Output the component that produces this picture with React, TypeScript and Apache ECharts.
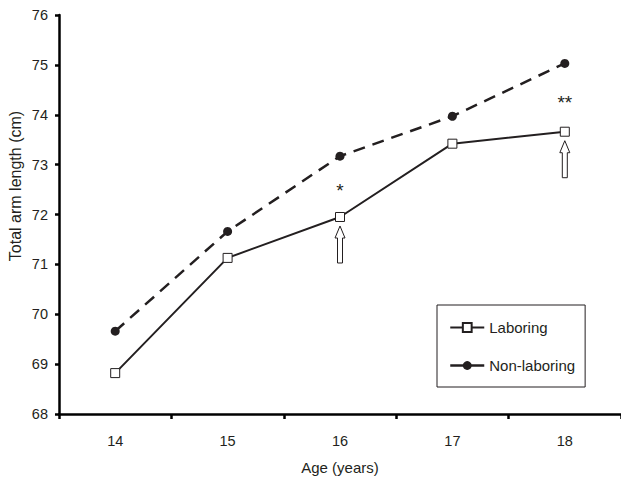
import React, { useEffect, useRef } from "react";
import * as echarts from "echarts";

const ages = ["14", "15", "16", "17", "18"];
const laboring = [68.82, 71.13, 71.95, 73.42, 73.66];
const nonLaboring = [69.66, 71.66, 73.17, 73.97, 75.03];
const yTicksMin = 68;
const yTicksMax = 76;
// arrows point up at these laboring values
const arrowPoints: [number, number][] = [
  [2, 71.95],
  [4, 73.66],
];
// significance marks
const marks: [number, number, string][] = [
  [2, 72.57, "*"],
  [4, 74.33, "**"],
];

const INK = "#231f20";
const FONT = "'Liberation Sans', Arial, sans-serif";

export default function App() {
  const ref = useRef<HTMLDivElement>(null);
  useEffect(() => {
    if (!ref.current) return;
    const chart = echarts.init(ref.current, undefined, { renderer: "svg" });
    chart.setOption({
      animation: false,
      backgroundColor: "#ffffff",
      textStyle: { fontFamily: FONT, color: INK },
      grid: { left: 59, right: -4, top: 15, bottom: 60, containLabel: false },
      xAxis: {
        type: "category",
        data: ages,
        boundaryGap: true,
        name: "Age (years)",
        nameLocation: "middle",
        nameGap: 46,
        nameTextStyle: { fontSize: 15, color: INK, fontFamily: FONT },
        axisLine: { show: true, lineStyle: { color: "#000000", width: 2.5 } },
        axisTick: { show: true, alignWithLabel: false, length: 5, lineStyle: { color: "#000000", width: 2.5 } },
        axisLabel: { fontSize: 14.5, color: INK, margin: 19, fontFamily: FONT },
        splitLine: { show: false },
      },
      yAxis: {
        type: "value",
        min: yTicksMin,
        max: yTicksMax,
        interval: 1,
        axisLine: { show: true, lineStyle: { color: "#000000", width: 2.5 } },
        axisTick: { show: true, length: 4, lineStyle: { color: "#000000", width: 2.5 } },
        axisLabel: { fontSize: 14.5, color: INK, margin: 11, fontFamily: FONT },
        splitLine: { show: false },
      },
      legend: {
        orient: "vertical",
        left: 437,
        top: 305,
        padding: [15, 10, 14, 12],
        itemGap: 23,
        itemWidth: 34,
        itemHeight: 11,
        borderColor: INK,
        borderWidth: 1,
        borderRadius: 0,
        backgroundColor: "#ffffff",
        textStyle: { fontSize: 15, color: INK, fontFamily: FONT },
        data: [
          { name: "Laboring", lineStyle: { type: "solid", width: 2 } },
          { name: "Non-laboring", lineStyle: { type: "solid", width: 2.5 } },
        ],
      },
      graphic: [
        {
          type: "text",
          x: 15,
          y: 186,
          rotation: Math.PI / 2,
          style: {
            text: "Total arm length (cm)",
            fontSize: 16,
            fontFamily: FONT,
            fill: INK,
            align: "center",
            verticalAlign: "middle",
          },
        },
      ],
      series: [
        {
          name: "Non-laboring",
          type: "line",
          data: nonLaboring,
          symbol: "circle",
          symbolSize: 9,
          lineStyle: { color: INK, width: 2.5, type: [12, 8] },
          itemStyle: { color: INK, borderColor: INK, borderWidth: 0 },
          z: 3,
        },
        {
          name: "Laboring",
          type: "line",
          data: laboring,
          symbol: "rect",
          symbolSize: 9,
          lineStyle: { color: INK, width: 2 },
          itemStyle: { color: "#ffffff", borderColor: INK, borderWidth: 1 },
          z: 4,
        },
        {
          name: "arrows",
          type: "custom",
          data: arrowPoints,
          z: 5,
          renderItem: (params: any, api: any) => {
            const p = api.coord([api.value(0), api.value(1)]);
            const x = p[0];
            const y = p[1] + 9;
            return {
              type: "polygon",
              shape: {
                points: [
                  [x, y],
                  [x + 5, y + 12],
                  [x + 2.5, y + 12],
                  [x + 2.5, y + 37],
                  [x - 2.5, y + 37],
                  [x - 2.5, y + 12],
                  [x - 5, y + 12],
                ],
              },
              style: { fill: "#ffffff", stroke: INK, lineWidth: 1 },
            };
          },
        },
        {
          name: "marks",
          type: "custom",
          data: marks,
          z: 5,
          renderItem: (params: any, api: any) => {
            const p = api.coord([api.value(0), api.value(1)]);
            return {
              type: "text",
              x: p[0],
              y: p[1] + 4,
              style: {
                text: marks[params.dataIndex][2],
                fontSize: 19,
                fontFamily: FONT,
                fill: INK,
                align: "center",
                verticalAlign: "middle",
              },
            };
          },
        },
      ],
    });
    return () => chart.dispose();
  }, []);
  return (
    <div
      ref={ref}
      style={{ position: "fixed", left: 0, top: 0, width: 621, height: 480, background: "#fff" }}
    />
  );
}
